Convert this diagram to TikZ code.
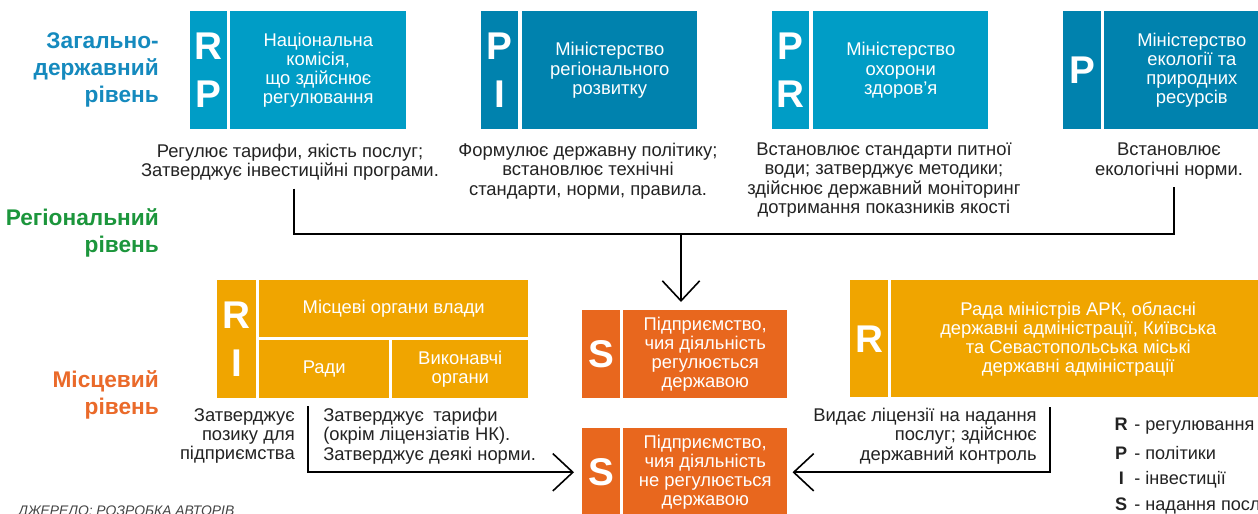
\documentclass[tikz,border=0pt]{standalone}
\usepackage{fontspec}
\setmainfont{Liberation Sans}
\usetikzlibrary{arrows.meta}

\definecolor{blueA}{RGB}{0,157,198}
\definecolor{blueB}{RGB}{0,130,174}
\definecolor{lvlBlue}{RGB}{21,138,190}
\definecolor{lvlGreen}{RGB}{28,150,60}
\definecolor{lvlOrange}{RGB}{234,106,42}
\definecolor{amber}{RGB}{240,165,0}
\definecolor{rust}{RGB}{232,103,30}
\definecolor{ink}{RGB}{35,35,35}

\begin{document}
\begin{tikzpicture}[x=0.75pt, y=-0.75pt, >={Straight Barb[length=15pt, width=28pt]}]
    \tikzstyle{tag} = [text=white, inner sep=0pt, anchor=north west, align=center,
	font=\fontsize{29}{36}\selectfont\bfseries]
    \tikzstyle{panel} = [text=white, inner sep=0pt, anchor=north west, align=center,
	font=\fontsize{13.8}{14.3}\selectfont]
    \tikzstyle{note} = [text=ink, inner sep=0pt, align=center,
	font=\fontsize{13.8}{14.5}\selectfont]
    \tikzstyle{level} = [anchor=east, align=right, inner sep=0pt,
	font=\fontsize{17}{20}\selectfont\bfseries]
    \tikzstyle{key} = [anchor=west, inner sep=0pt, text=ink,
	font=\fontsize{13.6}{15}\selectfont]
    \tikzstyle{link} = [draw=black, line width=1.2pt]

	\useasboundingbox (0,0) rectangle (1258,514);
	\clip (0,0) rectangle (1258,514);
	\fill[white] (0,0) rectangle (1258,514);

	% levels
	\node[level, text=lvlBlue] (lvl_state) at (159,70) {Загально-\\державний\\рівень};
	\node[level, text=lvlGreen] (lvl_region) at (159,233) {Регіональний\\рівень};
	\node[level, text=lvlOrange] (lvl_local) at (159,395) {Місцевий\\рівень};

	% state level
	\node[tag, fill=blueA, minimum width=27.75pt, minimum height=88.5pt] (nkr_tag) at (190,11) {R\\P};
	\node[panel, fill=blueA, minimum width=132pt, minimum height=88.5pt] (nkr) at (230,11)
		{Національна\\комісія,\\що здійснює\\регулювання};

	\node[tag, fill=blueB, minimum width=27.75pt, minimum height=88.5pt] (mrr_tag) at (481,11) {P\\I};
	\node[panel, fill=blueB, minimum width=131.25pt, minimum height=88.5pt] (mrr) at (522,11)
		{Міністерство\\регіонального\\розвитку};

	\node[tag, fill=blueA, minimum width=27.75pt, minimum height=88.5pt] (moz_tag) at (772,11) {P\\R};
	\node[panel, fill=blueA, minimum width=131.25pt, minimum height=88.5pt] (moz) at (813,11)
		{Міністерство\\охорони\\здоров’я};

	\node[tag, fill=blueB, minimum width=28.5pt, minimum height=88.5pt] (eco_tag) at (1063,11) {P};
	\node[panel, fill=blueB, minimum width=131.25pt, minimum height=88.5pt] (eco) at (1104,11)
		{Міністерство\\екології та\\природних\\ресурсів};

	\node[note] (nkr_note) at (290,162) {Регулює тарифи, якість послуг;\\Затверджує інвестиційні програми.};
	\node[note] (mrr_note) at (588,171) {Формулює державну політику;\\встановлює технічні\\стандарти, норми, правила.};
	\node[note] (moz_note) at (884,180) {Встановлює стандарти питної\\води; затверджує методики;\\здійснює державний моніторинг\\дотримання показників якості};
	\node[note] (eco_note) at (1169,161) {Встановлює\\екологічні норми.};

	% local level
	\node[tag, fill=amber, minimum width=29.25pt, minimum height=88.5pt] (mov_tag) at (217,280) {R\\I};
	\node[panel, fill=amber, minimum width=201.75pt, minimum height=42.75pt] (mov) at (259,280) {Місцеві органи влади};
	\node[panel, fill=amber, minimum width=97.5pt, minimum height=43.5pt] (rady) at (259,340) {Ради};
	\node[panel, fill=amber, minimum width=102pt, minimum height=43.5pt] (vyk) at (392,340) {Виконавчі\\органи};

	\node[tag, fill=rust, minimum width=28.5pt, minimum height=66pt] (s_reg_tag) at (582,310) {S};
	\node[panel, fill=rust, minimum width=123pt, minimum height=66pt] (s_reg) at (623,310)
		{Підприємство,\\чия діяльність\\регулюється\\державою};

	\node[tag, fill=rust, minimum width=28.5pt, minimum height=66pt] (s_free_tag) at (582,428) {S};
	\node[panel, fill=rust, minimum width=123pt, minimum height=66pt] (s_free) at (623,428)
		{Підприємство,\\чия діяльність\\не регулюється\\державою};

	\node[tag, fill=amber, minimum width=28.5pt, minimum height=87.75pt] (rm_tag) at (850,280) {R};
	\node[panel, fill=amber, minimum width=280.5pt, minimum height=87.75pt] (rm) at (891,280)
		{Рада міністрів АРК, обласні\\державні адміністрації, Київська\\та Севастопольська міські\\державні адміністрації};

	\node[note, anchor=east, align=right] (loan_note) at (295,436) {Затверджує\\позику для\\підприємства};
	\node[note, anchor=west, align=left] (tariff_note) at (323,436) {Затверджує\enspace тарифи\\(окрім ліцензіатів НК).\\Затверджує деякі норми.};
	\node[note, anchor=east, align=right] (lic_note) at (1037,436) {Видає ліцензії на надання\\послуг; здійснює\\державний контроль};

	% connectors
	\coordinate (bus) at (681,234);
	\coordinate (split) at (308,406);
	\coordinate (ctrl) at (1050,407);

	\draw[link, shorten <=6pt, shorten >=6pt] ([xshift=3pt]nkr_note.south) |- (bus) -| ([xshift=3.75pt]eco_note.south);
	\draw[link, ->, shorten >=6pt] (bus) -- (bus |- s_reg.north);
	\draw[link, ->, shorten >=6pt] (split) |- (s_free_tag.west);
	\draw[link, ->, shorten >=3.75pt] (ctrl) |- (s_free.east);

	% legend
	\node[key] (key_r) at (1113,426) {\makebox[12pt][c]{\bfseries R} - регулювання};
	\node[key] (key_p) at (1113,453) {\makebox[12pt][c]{\bfseries P} - політики};
	\node[key] (key_i) at (1113,480) {\makebox[12pt][c]{\bfseries I} - інвестиції};
	\node[key] (key_s) at (1113,506) {\makebox[12pt][c]{\bfseries S} - надання послуг};

	\node[anchor=base west, inner sep=0pt, text=ink!85, font=\fontsize{10.4}{12}\selectfont\itshape]
		(source) at (18,515) {ДЖЕРЕЛО: РОЗРОБКА АВТОРІВ};
\end{tikzpicture}
\end{document}
